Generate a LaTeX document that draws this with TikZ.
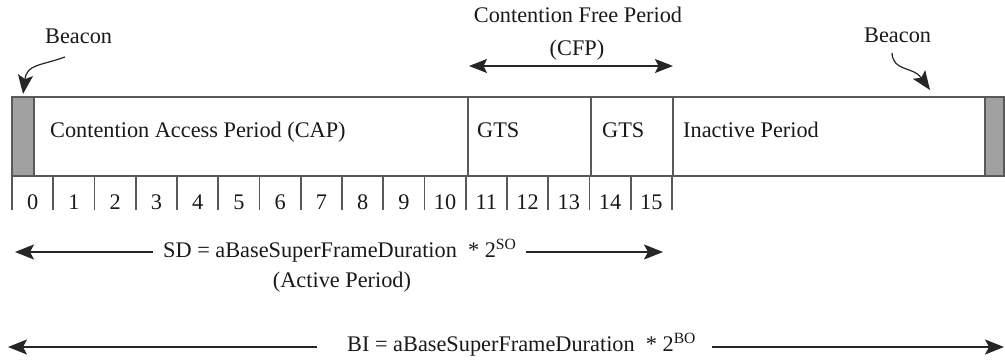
\documentclass[tikz,border=0pt]{standalone}
\usepackage{fontspec}
\setmainfont{Liberation Serif}
\usetikzlibrary{arrows.meta}

\begin{document}
\begin{tikzpicture}[x=1pt,y=-1pt,
  font=\fontsize{22.3}{26}\selectfont,
  lbl/.style={inner sep=0pt, anchor=base west, text=black!90},
  clbl/.style={inner sep=0pt, anchor=base, text=black!90},
  frame/.style={draw=black!65, line width=2pt},
  slot/.style={draw=black!65, line width=1.6pt},
  beaconfill/.style={fill=black!37, draw=black!65, line width=1.6pt},
  arr/.style={draw=black!85, line width=1.2pt, -{Stealth[length=19pt,width=15pt,inset=4pt]}},
  darr/.style={draw=black!85, line width=1.2pt, {Stealth[length=18pt,width=14pt,inset=3.5pt]}-{Stealth[length=18pt,width=14pt,inset=3.5pt]}}
]
\useasboundingbox (0,0) rectangle (1005,361);

% superframe body
\draw[frame] (12,97) rectangle (1004,176);
\draw[beaconfill] (12,97) rectangle (34,176);
\draw[beaconfill] (985,97) rectangle (1004,176);

% CAP / CFP / inactive dividers
\foreach \x in {467.5,590.5,672.5} \draw[frame] (\x,97) -- (\x,176);

% slot ticks and numbers
\foreach \i in {0,...,16} \draw[slot] ({12+41.25*\i},176) -- ({12+41.25*\i},210);
\foreach \i in {0,...,15} \node[clbl] (s\i) at ({12+41.25*(\i+0.5)},209) {\i};

% period labels inside the frame
\node[lbl] (cap) at (50,137) {Contention Access Period (CAP)};
\node[lbl] (gts1) at (477,137) {GTS};
\node[lbl] (gts2) at (602,137) {GTS};
\node[lbl] (inact) at (683,137) {Inactive Period};

% beacons
\node[lbl] (beaconL) at (45,44) {Beacon};
\node[lbl] (beaconR) at (864,43) {Beacon};
\coordinate (bl0) at (65,57);
\coordinate (bl1) at (23,94);
\coordinate (br0) at (892,53);
\coordinate (br1) at (930,90);
\draw[arr] (bl0) .. controls (40,66) and (27,64) .. (bl1);
\draw[arr] (br0) .. controls (893,72) and (913,66) .. (br1);

% contention free period
\node[clbl] (cfp1) at (578,23) {Contention Free Period};
\node[clbl] (cfp2) at (577,56) {(CFP)};
\coordinate (c0) at (469,66);
\coordinate (c1) at (673,66);
\draw[darr] (c0) -- (c1);

% superframe duration
\node[lbl] (sd) at (163,257) {SD = aBaseSuperFrameDuration\hspace{0.5em}* 2\textsuperscript{SO}};
\node[clbl] (act) at (342,287) {(Active Period)};
\coordinate (sd0) at (15,252);
\coordinate (sd1) at (663,252);
\draw[arr] (sd.west |- sd0) ++(-10,0) -- (sd0);
\draw[arr] (sd.east |- sd1) ++(9,0) -- (sd1);

% beacon interval
\node[lbl] (bi) at (347,351) {BI = aBaseSuperFrameDuration\hspace{0.5em}* 2\textsuperscript{BO}};
\coordinate (bi0) at (8,347);
\coordinate (bi1) at (1004,347);
\draw[arr] (bi.west |- bi0) ++(-30,0) -- (bi0);
\draw[arr] (bi.east |- bi1) ++(16,0) -- (bi1);
\end{tikzpicture}
\end{document}
